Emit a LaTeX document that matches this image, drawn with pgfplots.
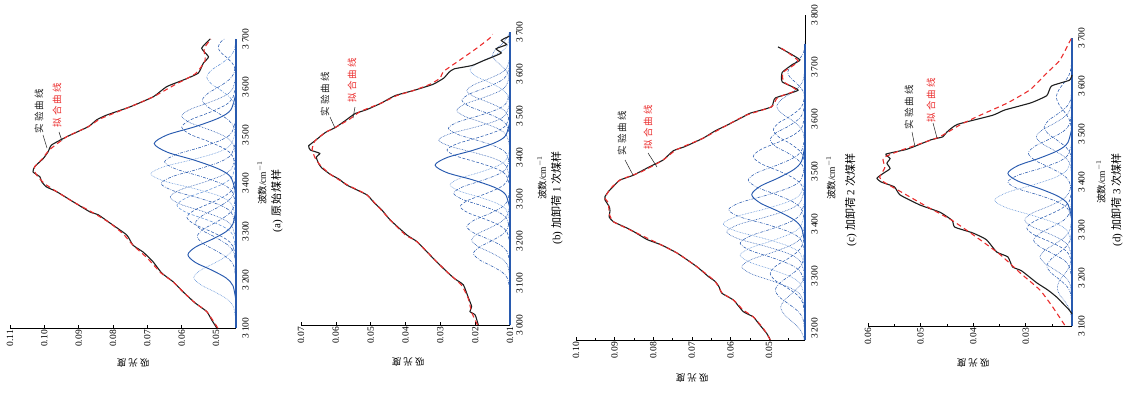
\documentclass[border=0pt]{standalone}
\usepackage{pgfplots}
\pgfplotsset{compat=1.18}
\usepackage{fontspec}
\setmainfont{Liberation Serif}
\newfontfamily\cjk{Noto Sans CJK SC}
\definecolor{cb}{RGB}{40,90,175}
\definecolor{cl}{RGB}{95,145,215}
\definecolor{fitred}{RGB}{235,45,45}
\definecolor{expblk}{RGB}{30,30,30}
\pgfplotsset{
  panel/.style={scale only axis, anchor=south west, clip=false, x dir=reverse,
    axis x line*=bottom, axis y line*=right, tick align=inside,
    scaled x ticks=false, scaled y ticks=false, ytick=\empty,
    major tick length=3.5pt, minor tick length=2pt,
    axis line style={line width=0.6pt, black},
    every tick/.style={black, line width=0.5pt},
    xticklabel style={rotate=90, anchor=east, font=\fontsize{9.5}{10}\selectfont, inner sep=2pt}},
  comp/.style={smooth, no marks, line width=0.55pt, cb},
  sol/.style={comp, line width=0.95pt},
  dsh/.style={comp, dash pattern=on 3pt off 1.8pt},
  dot/.style={comp, dash pattern=on 0.7pt off 0.9pt},
  dd/.style={comp, dash pattern=on 3pt off 1.3pt on 0.7pt off 1.3pt},
  ddd/.style={comp, dash pattern=on 3pt off 1.2pt on 0.7pt off 1.2pt on 0.7pt off 1.2pt},
  lt/.style={cl},
  expc/.style={no marks, expblk, line width=1.1pt, smooth, tension=0.3},
  fitc/.style={no marks, fitred, line width=1.1pt, dash pattern=on 5pt off 3.5pt, smooth, tension=0.3},
  base/.style={no marks, cb, line width=2.6pt},
}
\newcommand{\lab}{\fontsize{9.5}{10}\selectfont}
\newcommand{\capf}{\fontsize{11}{12}\selectfont}
\newcommand{\wl}[2]{\node[font=\lab, inner sep=2pt, xshift=4pt, rotate=90, anchor=north] at (axis cs:#1) {#2};}
\begin{document}
\begin{tikzpicture}
\path[use as bounding box] (0,0) rectangle (1129pt,392pt);
% ---------------- (a)
\begin{axis}[panel, at={(10pt,64pt)}, width=226pt, height=289pt,
  xmin=0.0442, xmax=0.11, ymin=3100, ymax=3700,
  xtick={0.05,0.06,0.07,0.08,0.09,0.10,0.11}, xticklabels={0.05,0.06,0.07,0.08,0.09,0.10,0.11}]
\addplot[dot,lt] coordinates {(0.0442,3115) (0.0450,3145) (0.0468,3160) (0.0504,3175) (0.0545,3190) (0.0565,3205) (0.0545,3220) (0.0504,3235) (0.0468,3250) (0.0450,3265) (0.0442,3295)};
\addplot[sol] coordinates {(0.0442,3156) (0.0451,3188) (0.0471,3204) (0.0512,3220) (0.0560,3236) (0.0582,3252) (0.0560,3268) (0.0512,3284) (0.0471,3300) (0.0451,3316) (0.0442,3348)};
\addplot[dd] coordinates {(0.0442,3200) (0.0449,3230) (0.0466,3245) (0.0499,3260) (0.0537,3275) (0.0555,3290) (0.0537,3305) (0.0499,3320) (0.0466,3335) (0.0449,3350) (0.0442,3380)};
\addplot[ddd] coordinates {(0.0442,3228) (0.0449,3258) (0.0467,3273) (0.0501,3288) (0.0541,3303) (0.0560,3318) (0.0541,3333) (0.0501,3348) (0.0467,3363) (0.0449,3378) (0.0442,3408)};
\addplot[dsh] coordinates {(0.0442,3240) (0.0451,3270) (0.0472,3285) (0.0514,3300) (0.0562,3315) (0.0585,3330) (0.0562,3345) (0.0514,3360) (0.0472,3375) (0.0451,3390) (0.0442,3420)};
\addplot[dsh,lt] coordinates {(0.0442,3265) (0.0453,3295) (0.0478,3310) (0.0528,3325) (0.0587,3340) (0.0614,3355) (0.0587,3370) (0.0528,3385) (0.0478,3400) (0.0453,3415) (0.0442,3445)};
\addplot[dot] coordinates {(0.0442,3282) (0.0454,3312) (0.0482,3327) (0.0538,3342) (0.0604,3357) (0.0634,3372) (0.0604,3387) (0.0538,3402) (0.0482,3417) (0.0454,3432) (0.0442,3462)};
\addplot[dd] coordinates {(0.0442,3310) (0.0456,3340) (0.0488,3355) (0.0551,3370) (0.0625,3385) (0.0660,3400) (0.0625,3415) (0.0551,3430) (0.0488,3445) (0.0456,3460) (0.0442,3490)};
\addplot[dot,lt] coordinates {(0.0442,3330) (0.0458,3360) (0.0494,3375) (0.0566,3390) (0.0651,3405) (0.0690,3420) (0.0651,3435) (0.0566,3450) (0.0494,3465) (0.0458,3480) (0.0442,3510)};
\addplot[dd] coordinates {(0.0442,3355) (0.0455,3385) (0.0486,3400) (0.0546,3415) (0.0617,3430) (0.0650,3445) (0.0617,3460) (0.0546,3475) (0.0486,3490) (0.0455,3505) (0.0442,3535)};
\addplot[sol] coordinates {(0.0442,3378) (0.0457,3413) (0.0492,3430) (0.0561,3448) (0.0642,3465) (0.0680,3483) (0.0642,3501) (0.0561,3518) (0.0492,3536) (0.0457,3553) (0.0442,3588)};
\addplot[dsh] coordinates {(0.0442,3427) (0.0452,3457) (0.0475,3472) (0.0521,3487) (0.0575,3502) (0.0600,3517) (0.0575,3532) (0.0521,3547) (0.0475,3562) (0.0452,3577) (0.0442,3607)};
\addplot[dot] coordinates {(0.0442,3456) (0.0452,3484) (0.0475,3498) (0.0521,3512) (0.0575,3526) (0.0600,3540) (0.0575,3554) (0.0521,3568) (0.0475,3582) (0.0452,3596) (0.0442,3624)};
\addplot[dd] coordinates {(0.0442,3489) (0.0448,3517) (0.0463,3531) (0.0491,3545) (0.0524,3559) (0.0540,3573) (0.0524,3587) (0.0491,3601) (0.0463,3615) (0.0448,3629) (0.0442,3657)};
\addplot[dd,lt] coordinates {(0.0442,3537) (0.0447,3565) (0.0460,3579) (0.0485,3593) (0.0514,3607) (0.0527,3621) (0.0514,3635) (0.0485,3649) (0.0460,3663) (0.0447,3677) (0.0442,3700)};
\addplot[dsh] coordinates {(0.0442,3617) (0.0445,3639) (0.0453,3650) (0.0468,3661) (0.0486,3672) (0.0494,3683) (0.0486,3694) (0.0476,3700)};
\addplot[base] coordinates {(0.0442,3100) (0.0442,3700)};
\addplot[expc] coordinates {(0.0498,3100) (0.0513,3117) (0.0527,3134) (0.0561,3152) (0.0596,3175) (0.0625,3196) (0.0658,3214) (0.0684,3238) (0.0713,3258) (0.0742,3272) (0.0760,3293) (0.0809,3318) (0.0843,3335) (0.0867,3341) (0.0916,3362) (0.0964,3383) (0.0994,3393) (0.1008,3404) (0.1013,3414) (0.1033,3424) (0.1028,3435) (0.1003,3452) (0.0989,3466) (0.0979,3480) (0.0935,3497) (0.0872,3518) (0.0848,3532) (0.0819,3542) (0.0751,3559) (0.0683,3580) (0.0644,3601) (0.0595,3615) (0.0552,3629) (0.0537,3650) (0.0522,3663) (0.0542,3681) (0.0517,3700)};
\addplot[fitc] coordinates {(0.0495,3100) (0.0527,3134) (0.0561,3152) (0.0596,3175) (0.0625,3196) (0.0660,3214) (0.0700,3245) (0.0742,3272) (0.0770,3295) (0.0809,3318) (0.0855,3338) (0.0916,3362) (0.0964,3383) (0.1000,3400) (0.1025,3420) (0.1028,3435) (0.1005,3452) (0.0985,3470) (0.0935,3497) (0.0872,3518) (0.0835,3535) (0.0751,3559) (0.0683,3580) (0.0620,3605) (0.0560,3628) (0.0532,3655) (0.0535,3680) (0.0515,3700)};
\wl{0.0442,3100}{3\,100}\wl{0.0442,3200}{3\,200}\wl{0.0442,3300}{3\,300}\wl{0.0442,3400}{3\,400}\wl{0.0442,3500}{3\,500}\wl{0.0442,3600}{3\,600}\wl{0.0442,3700}{3\,700}
\end{axis}
% ---------------- (b)
\begin{axis}[panel, at={(301pt,67pt)}, width=209pt, height=293pt,
  xmin=0.01, xmax=0.07, ymin=3000, ymax=3700,
  xtick={0.01,0.02,0.03,0.04,0.05,0.06,0.07}, xticklabels={0.01,0.02,0.03,0.04,0.05,0.06,0.07}]
\addplot[dd] coordinates {(0.0100,3081) (0.0107,3111) (0.0122,3126) (0.0153,3141) (0.0188,3156) (0.0205,3171) (0.0188,3186) (0.0153,3201) (0.0122,3216) (0.0107,3231) (0.0100,3261)};
\addplot[dot] coordinates {(0.0100,3113) (0.0107,3143) (0.0123,3158) (0.0155,3173) (0.0193,3188) (0.0210,3203) (0.0193,3218) (0.0155,3233) (0.0123,3248) (0.0107,3263) (0.0100,3293)};
\addplot[dd] coordinates {(0.0100,3145) (0.0108,3175) (0.0126,3190) (0.0162,3205) (0.0204,3220) (0.0224,3235) (0.0204,3250) (0.0162,3265) (0.0126,3280) (0.0108,3295) (0.0100,3325)};
\addplot[dsh] coordinates {(0.0100,3193) (0.0109,3223) (0.0130,3238) (0.0172,3253) (0.0220,3268) (0.0243,3283) (0.0220,3298) (0.0172,3313) (0.0130,3328) (0.0109,3343) (0.0100,3373)};
\addplot[dd] coordinates {(0.0100,3225) (0.0110,3255) (0.0134,3270) (0.0181,3285) (0.0236,3300) (0.0262,3315) (0.0236,3330) (0.0181,3345) (0.0134,3360) (0.0110,3375) (0.0100,3405)};
\addplot[dot,lt] coordinates {(0.0100,3245) (0.0111,3275) (0.0136,3290) (0.0186,3305) (0.0245,3320) (0.0272,3335) (0.0245,3350) (0.0186,3365) (0.0136,3380) (0.0111,3395) (0.0100,3425)};
\addplot[sol] coordinates {(0.0100,3277) (0.0113,3312) (0.0145,3329) (0.0208,3347) (0.0281,3364) (0.0315,3382) (0.0281,3400) (0.0208,3417) (0.0145,3435) (0.0113,3452) (0.0100,3487)};
\addplot[dsh] coordinates {(0.0100,3328) (0.0111,3358) (0.0138,3373) (0.0191,3388) (0.0252,3403) (0.0281,3418) (0.0252,3433) (0.0191,3448) (0.0138,3463) (0.0111,3478) (0.0100,3508)};
\addplot[dot] coordinates {(0.0100,3352) (0.0113,3382) (0.0143,3397) (0.0203,3412) (0.0272,3427) (0.0305,3442) (0.0272,3457) (0.0203,3472) (0.0143,3487) (0.0113,3502) (0.0100,3532)};
\addplot[dd] coordinates {(0.0100,3380) (0.0111,3410) (0.0137,3425) (0.0189,3440) (0.0249,3455) (0.0277,3470) (0.0249,3485) (0.0189,3500) (0.0137,3515) (0.0111,3530) (0.0100,3560)};
\addplot[dot] coordinates {(0.0100,3423) (0.0110,3453) (0.0132,3468) (0.0177,3483) (0.0229,3498) (0.0253,3513) (0.0229,3528) (0.0177,3543) (0.0132,3558) (0.0110,3573) (0.0100,3603)};
\addplot[dd] coordinates {(0.0100,3447) (0.0109,3477) (0.0129,3492) (0.0169,3507) (0.0216,3522) (0.0238,3537) (0.0216,3552) (0.0169,3567) (0.0129,3582) (0.0109,3597) (0.0100,3627)};
\addplot[dot] coordinates {(0.0100,3476) (0.0108,3504) (0.0126,3518) (0.0162,3532) (0.0204,3546) (0.0224,3560) (0.0204,3574) (0.0162,3588) (0.0126,3602) (0.0108,3616) (0.0100,3644)};
\addplot[dot,lt] coordinates {(0.0100,3519) (0.0107,3549) (0.0124,3564) (0.0158,3579) (0.0197,3594) (0.0215,3609) (0.0197,3624) (0.0158,3639) (0.0124,3654) (0.0107,3669) (0.0100,3699)};
\addplot[dot] coordinates {(0.0100,3570) (0.0103,3595) (0.0111,3607) (0.0125,3620) (0.0142,3632) (0.0150,3645) (0.0142,3658) (0.0125,3670) (0.0111,3683) (0.0103,3695) (0.0102,3700)};
\addplot[base] coordinates {(0.01,3000) (0.01,3700)};
\addplot[expc] coordinates {(0.0191,3000) (0.0200,3024) (0.0215,3032) (0.0210,3044) (0.0219,3064) (0.0234,3096) (0.0258,3110) (0.0281,3127) (0.0320,3159) (0.0367,3199) (0.0396,3215) (0.0444,3251) (0.0468,3275) (0.0490,3292) (0.0511,3311) (0.0568,3334) (0.0590,3348) (0.0616,3360) (0.0640,3375) (0.0649,3385) (0.0656,3401) (0.0646,3410) (0.0673,3418) (0.0678,3428) (0.0660,3440) (0.0630,3460) (0.0601,3472) (0.0570,3490) (0.0545,3505) (0.0510,3515) (0.0470,3530) (0.0430,3548) (0.0378,3560) (0.0321,3575) (0.0290,3590) (0.0275,3604) (0.0260,3612) (0.0209,3620) (0.0175,3632) (0.0148,3641) (0.0125,3650) (0.0140,3660) (0.0110,3670) (0.0125,3680) (0.0102,3690)};
\addplot[fitc] coordinates {(0.0193,3000) (0.0210,3030) (0.0220,3064) (0.0240,3096) (0.0281,3127) (0.0320,3159) (0.0367,3199) (0.0400,3215) (0.0444,3251) (0.0470,3275) (0.0511,3311) (0.0565,3334) (0.0616,3360) (0.0645,3382) (0.0660,3400) (0.0668,3420) (0.0660,3440) (0.0630,3460) (0.0595,3475) (0.0560,3492) (0.0530,3510) (0.0470,3530) (0.0425,3548) (0.0378,3560) (0.0330,3575) (0.0300,3590) (0.0292,3605) (0.0244,3633) (0.0196,3661) (0.0157,3686) (0.0150,3695)};
\wl{0.01,3000}{3\,000}\wl{0.01,3100}{3\,100}\wl{0.01,3200}{3\,200}\wl{0.01,3300}{3\,300}\wl{0.01,3400}{3\,400}\wl{0.01,3500}{3\,500}\wl{0.01,3600}{3\,600}\wl{0.01,3700}{3\,700}
\end{axis}
% ---------------- (c)
\begin{axis}[panel, at={(576pt,52pt)}, width=229pt, height=325pt,
  xmin=0.0407, xmax=0.10, ymin=3177.6, ymax=3800,
  xtick={0.05,0.06,0.07,0.08,0.09,0.10}, xticklabels={0.05,0.06,0.07,0.08,0.09,0.10},
  minor xtick={0.045,0.055,0.065,0.075,0.085,0.095}]
\addplot[dot] coordinates {(0.0409,3178) (0.0411,3184) (0.0420,3198) (0.0439,3212) (0.0460,3226) (0.0470,3240) (0.0460,3254) (0.0439,3268) (0.0420,3282) (0.0411,3296) (0.0407,3324)};
\addplot[dd] coordinates {(0.0407,3189) (0.0412,3217) (0.0423,3231) (0.0446,3245) (0.0472,3259) (0.0484,3273) (0.0472,3287) (0.0446,3301) (0.0423,3315) (0.0412,3329) (0.0407,3357)};
\addplot[dsh] coordinates {(0.0407,3221) (0.0413,3249) (0.0426,3263) (0.0452,3277) (0.0483,3291) (0.0497,3305) (0.0483,3319) (0.0452,3333) (0.0426,3347) (0.0413,3361) (0.0407,3389)};
\addplot[dot] coordinates {(0.0407,3234) (0.0417,3262) (0.0441,3276) (0.0489,3290) (0.0545,3304) (0.0571,3318) (0.0545,3332) (0.0489,3346) (0.0441,3360) (0.0417,3374) (0.0407,3402)};
\addplot[dot,lt] coordinates {(0.0407,3256) (0.0418,3284) (0.0442,3298) (0.0491,3312) (0.0548,3326) (0.0575,3340) (0.0548,3354) (0.0491,3368) (0.0442,3382) (0.0418,3396) (0.0407,3424)};
\addplot[dd] coordinates {(0.0407,3279) (0.0418,3307) (0.0442,3321) (0.0491,3335) (0.0548,3349) (0.0575,3363) (0.0548,3377) (0.0491,3391) (0.0442,3405) (0.0418,3419) (0.0407,3447)};
\addplot[dot] coordinates {(0.0407,3301) (0.0420,3329) (0.0450,3343) (0.0509,3357) (0.0578,3371) (0.0610,3385) (0.0578,3399) (0.0509,3413) (0.0450,3427) (0.0420,3441) (0.0407,3469)};
\addplot[dot,lt] coordinates {(0.0407,3316) (0.0420,3344) (0.0452,3358) (0.0513,3372) (0.0585,3386) (0.0619,3400) (0.0585,3414) (0.0513,3428) (0.0452,3442) (0.0420,3456) (0.0407,3484)};
\addplot[dd] coordinates {(0.0407,3343) (0.0419,3371) (0.0449,3385) (0.0506,3399) (0.0574,3413) (0.0605,3427) (0.0574,3441) (0.0506,3455) (0.0449,3469) (0.0419,3483) (0.0407,3511)};
\addplot[sol] coordinates {(0.0407,3360) (0.0416,3392) (0.0436,3408) (0.0476,3424) (0.0523,3440) (0.0545,3456) (0.0523,3472) (0.0476,3488) (0.0436,3504) (0.0416,3520) (0.0407,3552)};
\addplot[dd] coordinates {(0.0407,3400) (0.0416,3428) (0.0438,3442) (0.0481,3456) (0.0531,3470) (0.0554,3484) (0.0531,3498) (0.0481,3512) (0.0438,3526) (0.0416,3540) (0.0407,3568)};
\addplot[dsh] coordinates {(0.0407,3445) (0.0415,3473) (0.0435,3487) (0.0474,3501) (0.0520,3515) (0.0541,3529) (0.0520,3543) (0.0474,3557) (0.0435,3571) (0.0415,3585) (0.0407,3613)};
\addplot[dd] coordinates {(0.0407,3486) (0.0413,3511) (0.0426,3523) (0.0452,3536) (0.0483,3548) (0.0497,3561) (0.0483,3574) (0.0452,3586) (0.0426,3599) (0.0413,3611) (0.0407,3636)};
\addplot[dsh] coordinates {(0.0407,3505) (0.0412,3530) (0.0424,3542) (0.0448,3555) (0.0476,3567) (0.0489,3580) (0.0476,3593) (0.0448,3605) (0.0424,3618) (0.0412,3630) (0.0407,3655)};
\addplot[dot] coordinates {(0.0407,3550) (0.0412,3575) (0.0422,3587) (0.0444,3600) (0.0468,3612) (0.0480,3625) (0.0468,3638) (0.0444,3650) (0.0422,3663) (0.0412,3675) (0.0407,3700)};
\addplot[dd] coordinates {(0.0407,3630) (0.0410,3650) (0.0417,3660) (0.0430,3670) (0.0445,3680) (0.0452,3690) (0.0445,3700) (0.0430,3710) (0.0417,3720) (0.0410,3730) (0.0407,3750)};
\addplot[base] coordinates {(0.0407,3178) (0.0407,3745)};
\addplot[expc] coordinates {(0.0497,3178) (0.0506,3190) (0.0528,3210) (0.0541,3222) (0.0567,3232) (0.0592,3254) (0.0622,3267) (0.0630,3280) (0.0640,3290) (0.0657,3299) (0.0687,3318) (0.0738,3344) (0.0780,3360) (0.0816,3370) (0.0850,3385) (0.0868,3392) (0.0903,3404) (0.0914,3413) (0.0912,3425) (0.0914,3433) (0.0925,3446) (0.0925,3452) (0.0916,3462) (0.0903,3472) (0.0886,3484) (0.0852,3493) (0.0808,3510) (0.0775,3522) (0.0748,3540) (0.0718,3548) (0.0671,3564) (0.0640,3578) (0.0609,3589) (0.0567,3605) (0.0549,3612) (0.0494,3624) (0.0484,3641) (0.0425,3656) (0.0466,3672) (0.0466,3690) (0.0440,3705) (0.0420,3714) (0.0450,3728) (0.0477,3739)};
\addplot[fitc] coordinates {(0.0497,3178) (0.0515,3200) (0.0541,3222) (0.0567,3235) (0.0592,3254) (0.0622,3268) (0.0640,3290) (0.0687,3318) (0.0738,3344) (0.0780,3360) (0.0850,3385) (0.0903,3404) (0.0914,3420) (0.0916,3440) (0.0925,3450) (0.0910,3468) (0.0886,3484) (0.0830,3500) (0.0775,3522) (0.0740,3542) (0.0671,3564) (0.0609,3589) (0.0560,3608) (0.0494,3624) (0.0478,3642) (0.0430,3656) (0.0462,3672) (0.0464,3690) (0.0425,3712) (0.0475,3740)};
\wl{0.0407,3200}{3\,200}\wl{0.0407,3300}{3\,300}\wl{0.0407,3400}{3\,400}\wl{0.0407,3500}{3\,500}\wl{0.0407,3600}{3\,600}\wl{0.0407,3700}{3\,700}\wl{0.0407,3800}{3\,800}
\end{axis}
% ---------------- (d)
\begin{axis}[panel, at={(868pt,66pt)}, width=204pt, height=288pt,
  xmin=0.0212, xmax=0.06, ymin=3100, ymax=3700,
  xtick={0.03,0.04,0.05,0.06}, xticklabels={0.03,0.04,0.05,0.06},
  minor xtick={0.025,0.035,0.045,0.055}]
\addplot[dot] coordinates {(0.0212,3100) (0.0214,3124) (0.0218,3138) (0.0226,3152) (0.0236,3166) (0.0240,3180) (0.0236,3194) (0.0226,3208) (0.0218,3222) (0.0214,3236) (0.0212,3264)};
\addplot[dd] coordinates {(0.0212,3141) (0.0215,3169) (0.0222,3183) (0.0236,3197) (0.0252,3211) (0.0260,3225) (0.0252,3239) (0.0236,3253) (0.0222,3267) (0.0215,3281) (0.0212,3309)};
\addplot[dot] coordinates {(0.0212,3160) (0.0216,3188) (0.0225,3202) (0.0243,3216) (0.0263,3230) (0.0273,3244) (0.0263,3258) (0.0243,3272) (0.0225,3286) (0.0216,3300) (0.0212,3328)};
\addplot[dd] coordinates {(0.0212,3195) (0.0217,3223) (0.0227,3237) (0.0249,3251) (0.0273,3265) (0.0285,3279) (0.0273,3293) (0.0249,3307) (0.0227,3321) (0.0217,3335) (0.0212,3363)};
\addplot[dsh] coordinates {(0.0212,3220) (0.0217,3248) (0.0230,3262) (0.0255,3276) (0.0284,3290) (0.0298,3304) (0.0284,3318) (0.0255,3332) (0.0230,3346) (0.0217,3360) (0.0212,3388)};
\addplot[dot] coordinates {(0.0212,3237) (0.0218,3265) (0.0231,3279) (0.0257,3293) (0.0288,3307) (0.0302,3321) (0.0288,3335) (0.0257,3349) (0.0231,3363) (0.0218,3377) (0.0212,3405)};
\addplot[dot,lt] coordinates {(0.0212,3266) (0.0221,3298) (0.0243,3314) (0.0286,3330) (0.0336,3346) (0.0359,3362) (0.0336,3378) (0.0286,3394) (0.0243,3410) (0.0221,3426) (0.0212,3458)};
\addplot[dd] coordinates {(0.0212,3316) (0.0220,3344) (0.0238,3358) (0.0273,3372) (0.0315,3386) (0.0334,3400) (0.0315,3414) (0.0273,3428) (0.0238,3442) (0.0220,3456) (0.0212,3484)};
\addplot[sol] coordinates {(0.0212,3322) (0.0220,3354) (0.0238,3370) (0.0273,3386) (0.0315,3402) (0.0334,3418) (0.0315,3434) (0.0273,3450) (0.0238,3466) (0.0220,3482) (0.0212,3514)};
\addplot[dd] coordinates {(0.0212,3370) (0.0217,3400) (0.0229,3415) (0.0254,3430) (0.0282,3445) (0.0295,3460) (0.0282,3475) (0.0254,3490) (0.0229,3505) (0.0217,3520) (0.0212,3550)};
\addplot[dot] coordinates {(0.0212,3410) (0.0216,3438) (0.0226,3452) (0.0246,3466) (0.0269,3480) (0.0280,3494) (0.0269,3508) (0.0246,3522) (0.0226,3536) (0.0216,3550) (0.0212,3578)};
\addplot[dd] coordinates {(0.0212,3430) (0.0215,3458) (0.0223,3472) (0.0239,3486) (0.0257,3500) (0.0265,3514) (0.0257,3528) (0.0239,3542) (0.0223,3556) (0.0215,3570) (0.0212,3598)};
\addplot[dsh] coordinates {(0.0212,3487) (0.0214,3517) (0.0218,3532) (0.0227,3547) (0.0237,3562) (0.0242,3577) (0.0237,3592) (0.0227,3607) (0.0218,3622) (0.0214,3637) (0.0212,3667)};
\addplot[base] coordinates {(0.0212,3100) (0.0212,3700)};
\addplot[expc] coordinates {(0.0212,3125) (0.0217,3133) (0.0241,3160) (0.0258,3175) (0.0279,3190) (0.0308,3215) (0.0325,3223) (0.0334,3244) (0.0355,3254) (0.0375,3280) (0.0401,3294) (0.0435,3306) (0.0440,3320) (0.0463,3337) (0.0501,3352) (0.0539,3373) (0.0550,3390) (0.0575,3400) (0.0583,3408) (0.0571,3418) (0.0558,3428) (0.0564,3439) (0.0558,3449) (0.0566,3458) (0.0530,3467) (0.0514,3473) (0.0480,3488) (0.0458,3494) (0.0450,3504) (0.0430,3520) (0.0363,3539) (0.0340,3550) (0.0290,3565) (0.0260,3580) (0.0251,3600) (0.0217,3612) (0.0212,3623)};
\addplot[fitc] coordinates {(0.0226,3102) (0.0249,3140) (0.0273,3175) (0.0310,3210) (0.0350,3250) (0.0400,3290) (0.0440,3320) (0.0490,3350) (0.0530,3375) (0.0570,3400) (0.0578,3410) (0.0568,3430) (0.0571,3450) (0.0540,3465) (0.0500,3480) (0.0464,3494) (0.0425,3519) (0.0387,3539) (0.0336,3564) (0.0292,3592) (0.0260,3627) (0.0235,3654) (0.0213,3700)};
\wl{0.0212,3100}{3\,100}\wl{0.0212,3200}{3\,200}\wl{0.0212,3300}{3\,300}\wl{0.0212,3400}{3\,400}\wl{0.0212,3500}{3\,500}\wl{0.0212,3600}{3\,600}\wl{0.0212,3700}{3\,700}
\end{axis}
% ---------------- labels
\foreach \x/\y in {133/29, 408/30, 692/14, 973/29}
  \node[rotate=180, font=\lab] at (\x pt,\y pt) {\cjk 吸\hspace{2pt}光\hspace{2pt}度};
\foreach \x/\y in {262/209, 542/214, 831/214, 1101/210}
  \node[rotate=90, font=\lab] at (\x pt,\y pt) {{\cjk 波数}/cm$^{-1}$};
\node[rotate=90, font=\capf] at (277pt,191pt) {(a)\hspace{3pt}{\cjk 原\hspace{1pt}始\hspace{1pt}煤\hspace{1pt}样}};
\node[rotate=90, font=\capf] at (557pt,194pt) {(b)\hspace{3pt}{\cjk 加卸荷} 1 {\cjk 次煤样}};
\node[rotate=90, font=\capf] at (851pt,192pt) {(c)\hspace{3pt}{\cjk 加卸荷} 2 {\cjk 次煤样}};
\node[rotate=90, font=\capf] at (1117pt,192pt) {(d)\hspace{3pt}{\cjk 加卸荷} 3 {\cjk 次煤样}};
% annotations
\foreach \ax/\ay/\bx/\by/\cx/\cy/\rx/\ry/\dx/\dy/\ex/\ey in
 {39/281/43/257/47/244/57/287/59/260/62/251,
  325/298/330/275/335/264/352/312/355/285/353/274,
  622/259/625/232/633/217/648/265/648/239/657/225,
  909/285/912/260/915/245/931/292/933/269/937/254}{
  \node[rotate=90, font=\lab, expblk] at (\ax pt,\ay pt) {\cjk 实\hspace{2pt}验\hspace{2pt}曲\hspace{2pt}线};
  \draw[expblk, line width=0.5pt] (\bx pt,\by pt) -- (\cx pt,\cy pt);
  \node[rotate=90, font=\lab, fitred] at (\rx pt,\ry pt) {\cjk 拟\hspace{2pt}合\hspace{2pt}曲\hspace{2pt}线};
  \draw[expblk, line width=0.5pt] (\dx pt,\dy pt) -- (\ex pt,\ey pt);
}
\end{tikzpicture}
\end{document}
